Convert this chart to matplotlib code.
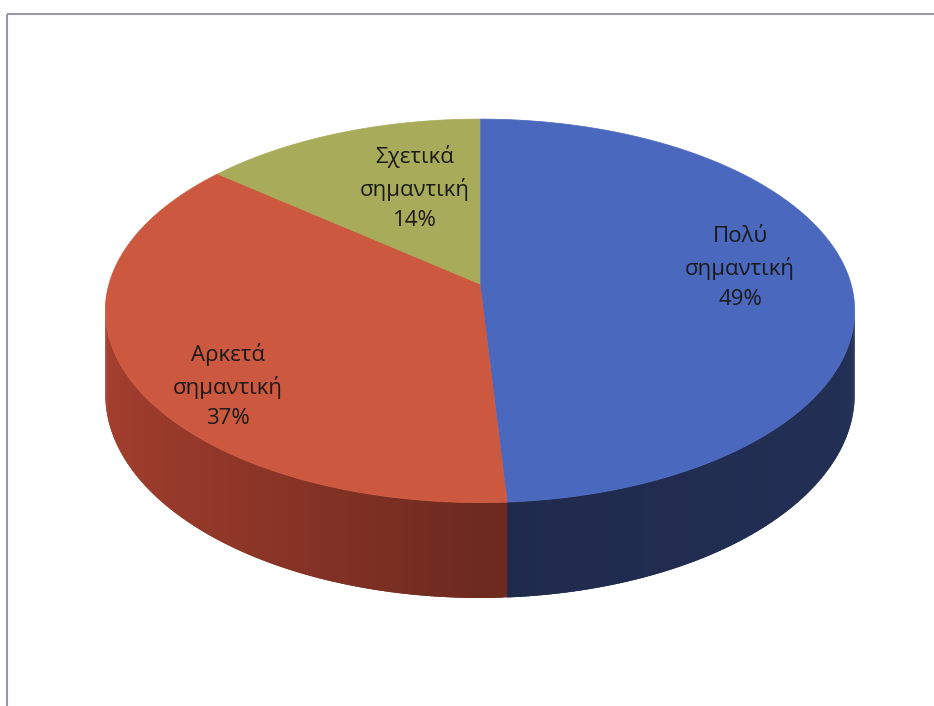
import numpy as np
import matplotlib
matplotlib.use('Agg')
import matplotlib.pyplot as plt
from matplotlib.patches import Polygon, Rectangle

plt.rcParams['font.family'] = ['Open Sans', 'DejaVu Sans']

# data (clockwise from 12 o'clock)
categories = ['Πολύ\nσημαντική', 'Αρκετά\nσημαντική', 'Σχετικά\nσημαντική']
shares = [49, 37, 14]
top_colors = ['#4A68BE', '#CD5840', '#A8AC5A']
side_colors = ['#1F2A4C', '#6E2A1F', '#6A6C36']

# layout of the 3d pie (pixels)
cx, cy = 480, 284      # projected centre of the disc
rx, ry = 371, 188      # radii before perspective
k = 0.14               # perspective strength (back smaller)
depth = 82             # thickness
label_pos = [(740, 268), (228, 386), (415, 188)]


def proj(phi, r=1.0):
    # phi in degrees, clockwise from top
    a = np.radians(phi)
    u = r * np.sin(a)
    v = r * np.cos(a)
    w = 1 + k * v
    return cx + rx * u / w, cy - ry * v / w, w


def shade(hex_color, f):
    c = np.array(matplotlib.colors.to_rgb(hex_color)) * f
    return tuple(np.clip(c, 0, 1))


fig = plt.figure(figsize=(9.34, 7.06), dpi=100)
ax = fig.add_axes([0, 0, 1, 1])
ax.set_xlim(0, 934)
ax.set_ylim(706, 0)
ax.axis('off')

# chart frame (runs off the right/bottom edge)
ax.add_patch(Rectangle((7, 14), 950, 720, fill=False, edgecolor='#9A9AA6', linewidth=1.5))

bounds = np.concatenate([[0], np.cumsum(shares)]) / sum(shares) * 360
vis_lo = np.degrees(np.arccos(-k))
vis_hi = 360 - vis_lo

# side walls, drawn as thin overlapping strips for the shading
for i in range(len(shares)):
    lo = max(bounds[i], vis_lo)
    hi = min(bounds[i + 1], vis_hi)
    if hi <= lo:
        continue
    steps = np.linspace(lo, hi, int((hi - lo) * 2) + 2)
    for a0, a1 in zip(steps[:-1], steps[1:]):
        a1e = min(a1 + 0.6, hi)
        x0, y0, w0 = proj(a0)
        x1, y1, w1 = proj(a1e)
        u = np.sin(np.radians((a0 + a1) / 2))
        f = 1 + 0.5 * max(-u, 0) + 0.12 * max(u, 0)
        col = shade(side_colors[i], f)
        poly = [(x0, y0), (x1, y1), (x1, y1 + depth / w1), (x0, y0 + depth / w0)]
        ax.add_patch(Polygon(poly, closed=True, facecolor=col, edgecolor='none'))

# top faces
for i in range(len(shares)):
    a = np.linspace(bounds[i], bounds[i + 1], 200)
    xs, ys, _ = proj(a)
    pts = [(cx, cy)] + list(zip(xs, ys))
    ax.add_patch(Polygon(pts, closed=True, facecolor=top_colors[i], edgecolor=top_colors[i], linewidth=0.5))

# labels
for name, val, (lx, ly) in zip(categories, shares, label_pos):
    ax.text(lx, ly, f'{name}\n{val}%', ha='center', va='center', fontsize=16,
            color='#1A1A1A', linespacing=1.55)

fig.savefig('out.png', dpi=100, facecolor='white')
